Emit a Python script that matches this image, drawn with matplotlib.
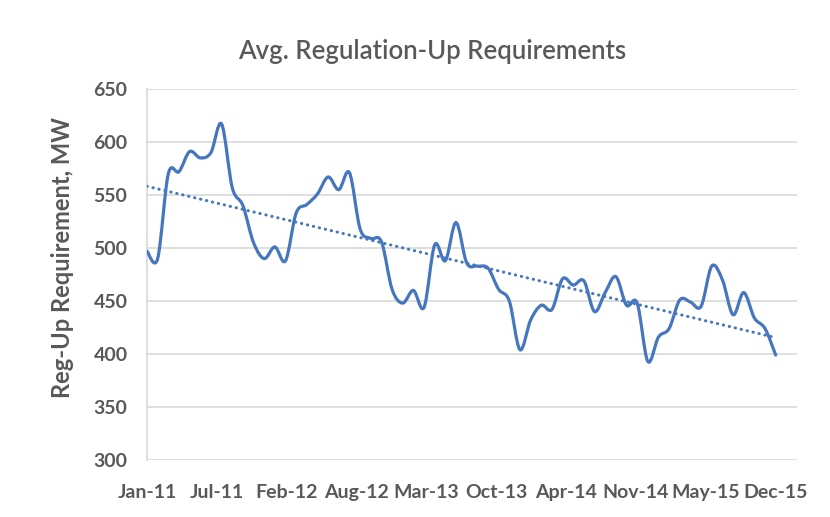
import numpy as np
import matplotlib
matplotlib.use("Agg")
import matplotlib.pyplot as plt
from matplotlib.path import Path
from matplotlib.patches import PathPatch

# ---- data (monthly, Jan-2011 .. Dec-2015) ----
months = list(range(60))
reg_up = [497, 490, 570, 572, 591, 585, 590, 617, 557, 540,
          505, 490, 501, 488, 533, 541, 551, 567, 555, 571,
          518, 509, 506, 461, 448, 460, 444, 503, 488, 524,
          486, 483, 481, 461, 450, 404, 432, 446, 442, 471,
          465, 469, 440, 458, 473, 446, 448, 393, 416, 424,
          451, 449, 445, 483, 470, 437, 458, 434, 424, 399]
tick_labels = ["Jan-11", "Jul-11", "Feb-12", "Aug-12", "Mar-13",
               "Oct-13", "Apr-14", "Nov-14", "May-15", "Dec-15"]
y_ticks = [300, 350, 400, 450, 500, 550, 600, 650]

title = "Avg. Regulation-Up Requirements"
ylabel = "Reg-Up Requirement, MW"

blue = "#4677BE"
grey_txt = "#595959"
grid_c = "#D9D9D9"
font = "Lato"

fig = plt.figure(figsize=(8.30, 5.17), dpi=100)
ax = fig.add_axes([147/830, 1-460/517, 650/830, 371/517])

# smoothed line (Catmull-Rom style Bezier, like Excel "smoothed line")
x = np.array(months, dtype=float)
y = np.array(reg_up, dtype=float)
n = len(x)
verts = [(x[0], y[0])]
codes = [Path.MOVETO]
for i in range(n - 1):
    p0 = np.array([x[max(i-1, 0)], y[max(i-1, 0)]])
    p1 = np.array([x[i], y[i]])
    p2 = np.array([x[i+1], y[i+1]])
    p3 = np.array([x[min(i+2, n-1)], y[min(i+2, n-1)]])
    c1 = p1 + (p2 - p0) / 6.0
    c2 = p2 - (p3 - p1) / 6.0
    verts += [tuple(c1), tuple(c2), tuple(p2)]
    codes += [Path.CURVE4] * 3
ax.add_patch(PathPatch(Path(verts, codes), fill=False, edgecolor=blue,
                       linewidth=2.3, capstyle="round", joinstyle="round", zorder=3))

# linear trendline
k, b = np.polyfit(x, y, 1)
tx = np.array([x[0], x[-1]])
ax.plot(tx, k*tx + b, color=blue, linewidth=2.2,
        linestyle=(0, (0.1, 1.9)), dash_capstyle="round", zorder=3)

ax.set_xlim(0, 61)
ax.set_ylim(300, 650)
ax.set_yticks(y_ticks)
ax.set_xticks(np.linspace(0, 59, len(tick_labels)))
ax.set_xticklabels(tick_labels)
ax.grid(axis="y", color=grid_c, linewidth=1.2)
ax.set_axisbelow(True)
for s in ["top", "right", "bottom"]:
    ax.spines[s].set_visible(False)
ax.spines["left"].set_color(grid_c)
ax.spines["left"].set_linewidth(1.2)
ax.tick_params(length=0)
ax.tick_params(axis="y", pad=14)
ax.tick_params(axis="x", pad=17)
for lab in ax.get_xticklabels() + ax.get_yticklabels():
    lab.set_fontfamily(font)
    lab.set_fontweight("bold")
    lab.set_fontsize(14)
    lab.set_color(grey_txt)

fig.text(432/830, 1-52/517, title, ha="center", va="center",
         fontsize=18.5, fontweight="semibold", color=grey_txt, family=font)
fig.text(62/830, 1-257/517, ylabel, ha="center", va="center", rotation=90,
         fontsize=17, fontweight="bold", color=grey_txt, family=font)

fig.savefig("out.png", dpi=100)
